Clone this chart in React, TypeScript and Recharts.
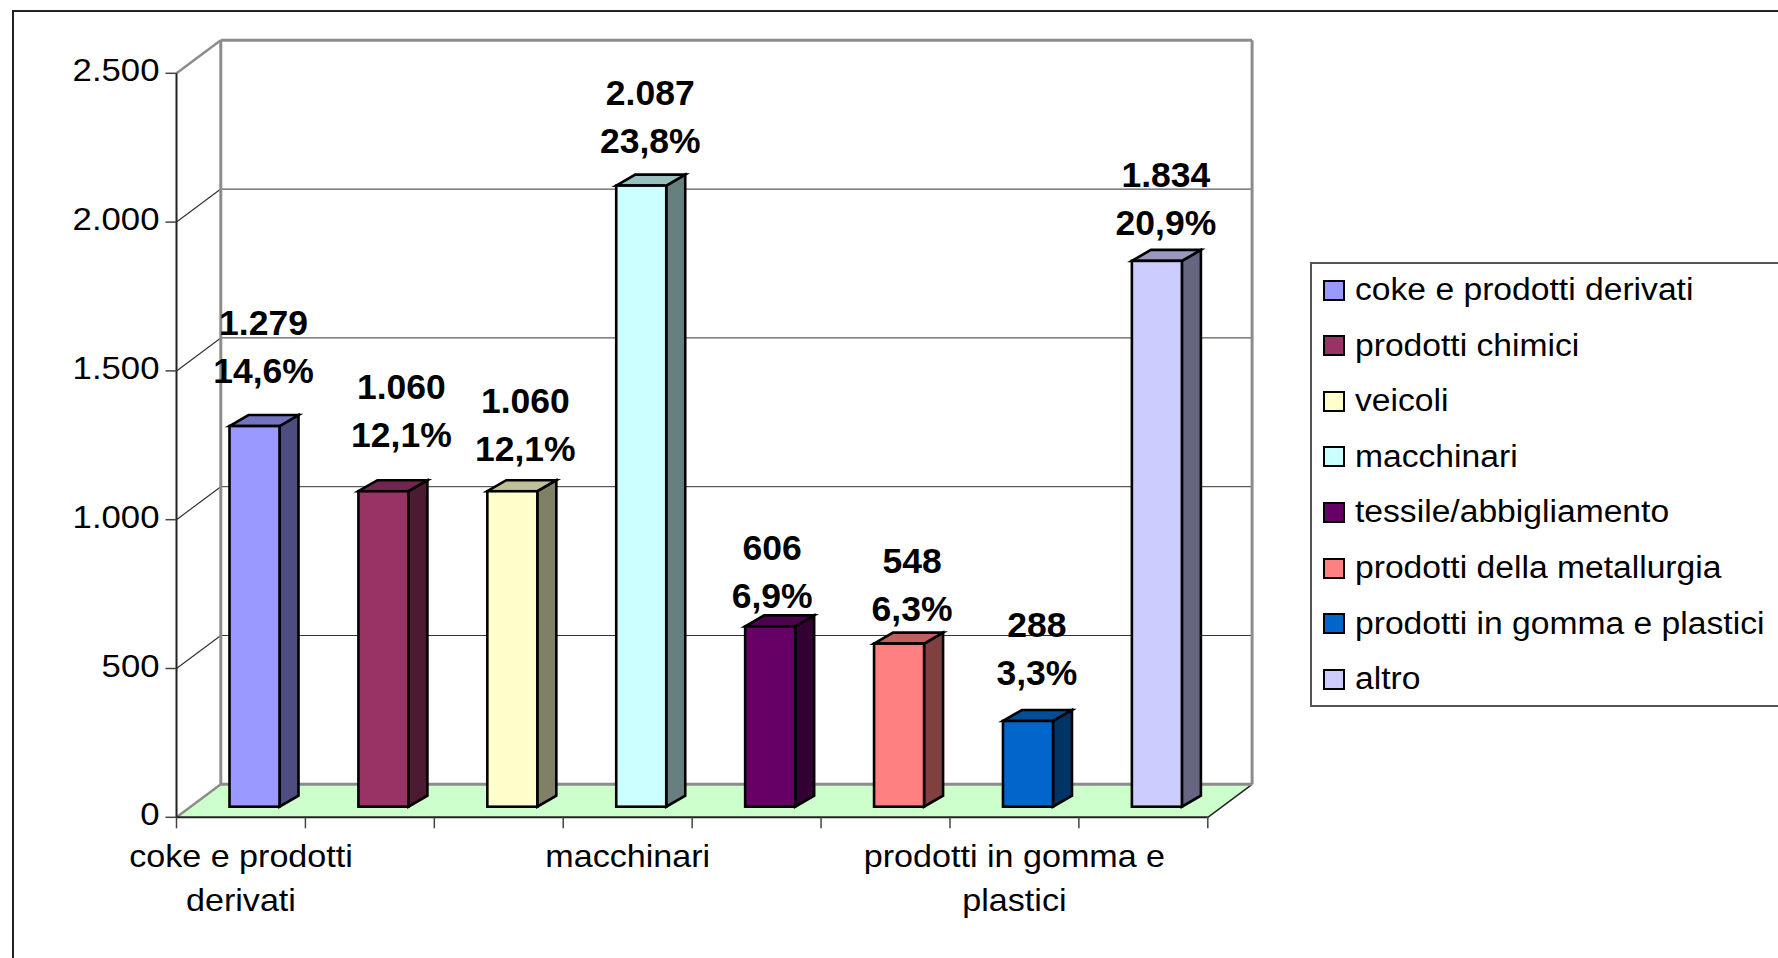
import { Bar, BarChart, CartesianGrid, LabelList, Legend, XAxis, YAxis } from 'recharts';

const categories = [
  'coke e prodotti derivati',
  'prodotti chimici',
  'veicoli',
  'macchinari',
  'tessile/abbigliamento',
  'prodotti della metallurgia',
  'prodotti in gomma e plastici',
  'altro',
];
const values = [1279, 1060, 1060, 2087, 606, 548, 288, 1834];
const shares = ['14,6%', '12,1%', '12,1%', '23,8%', '6,9%', '6,3%', '3,3%', '20,9%'];
const colors = ['#9999ff', '#993366', '#ffffcc', '#ccffff', '#660066', '#ff8080', '#0066cc', '#ccccff'];
const yTicks = [0, 500, 1000, 1500, 2000, 2500];
// the original only shows every third category name, wrapped like this
const xTickLines: Record<string, string[]> = {
  'coke e prodotti derivati': ['coke e prodotti', 'derivati'],
  macchinari: ['macchinari'],
  'prodotti in gomma e plastici': ['prodotti in gomma e', 'plastici'],
};

// the labels were dragged by hand in the original, so each one has its own nudge
const labelDx = [9, 18, 13, 9, 2, 13, 9, 9];
const labelDy = [-91, -92, -78, -81, -66, -71, -84, -74];

const FONT = '"Liberation Sans", Arial, sans-serif';
const WIDTH = 1778;
const HEIGHT = 958;
const LEFT = 176.5;
const RIGHT = 1207.8;
const TOP = 73.3;
const BOTTOM = 817.3;
const BAND = (RIGHT - LEFT) / categories.length;
// wall depth of the fake 3D box, and of the bars
const WALL_X = 44.3;
const WALL_Y = 33;
const BAR_X = 19;
const BAR_Y = 11;
const BAR_SHIFT_X = 14;
const BAR_SHIFT_Y = 10.6;

const rows = categories.map((name, i) => ({ name, value: values[i] }));

function shade(hex: string, k: number): string {
  const n = parseInt(hex.slice(1), 16);
  const c = [n >> 16, (n >> 8) & 255, n & 255].map(v => Math.round(v * k));
  return `rgb(${c[0]},${c[1]},${c[2]})`;
}

function dotted(v: number): string {
  return String(v).replace(/\B(?=(\d{3})+$)/g, '.');
}

function Box(props: any) {
  const { x, y, width, height, index } = props;
  const l = x + BAR_SHIFT_X;
  const r = l + width;
  const t = y - BAR_SHIFT_Y;
  const b = t + height;
  const c = colors[index];
  return (
    <g stroke="#000" strokeWidth={2.6} strokeLinejoin="miter">
      <polygon
        points={`${r},${t} ${r + BAR_X},${t - BAR_Y} ${r + BAR_X},${b - BAR_Y} ${r},${b}`}
        fill={shade(c, 0.5)}
      />
      <polygon
        points={`${l},${t} ${l + BAR_X},${t - BAR_Y} ${r + BAR_X},${t - BAR_Y} ${r},${t}`}
        fill={shade(c, 0.75)}
      />
      <rect x={l} y={t} width={width} height={height} fill={c} />
    </g>
  );
}

function GridLine(props: any) {
  const { x1, y1, x2 } = props;
  const floor = Math.abs(y1 - BOTTOM) < 1;
  const edge = floor || Math.abs(y1 - TOP) < 1;
  const backY = y1 - WALL_Y;
  return (
    <g>
      {floor && (
        <polygon
          points={`${x1},${y1} ${x1 + WALL_X},${backY} ${x2 + WALL_X},${backY} ${x2},${y1}`}
          fill="#ccffcc"
        />
      )}
      {floor && <line x1={x2} y1={y1} x2={x2 + WALL_X} y2={backY} stroke="#222" strokeWidth={1.5} />}
      <line
        x1={x1}
        y1={y1}
        x2={x1 + WALL_X}
        y2={backY}
        stroke={edge ? '#8c8c8c' : '#333'}
        strokeWidth={edge ? 2.5 : 1.2}
      />
      <line
        x1={x1 + WALL_X}
        y1={backY}
        x2={x2 + WALL_X}
        y2={backY}
        stroke={edge ? '#8c8c8c' : '#333'}
        strokeWidth={edge ? 3 : 1}
      />
    </g>
  );
}

function Walls() {
  return (
    <g stroke="#8c8c8c" strokeWidth={3}>
      <line x1={LEFT + WALL_X} y1={TOP - WALL_Y} x2={LEFT + WALL_X} y2={BOTTOM - WALL_Y} />
      <line x1={RIGHT + WALL_X} y1={TOP - WALL_Y} x2={RIGHT + WALL_X} y2={BOTTOM - WALL_Y} />
    </g>
  );
}

function YTick(props: any) {
  const { x, y, payload } = props;
  return (
    <text
      transform={`translate(${x},${y + 8}) scale(1.12,1)`}
      textAnchor="end"
      fontFamily={FONT}
      fontSize={31}
      fill="#000"
    >
      {dotted(payload.value)}
    </text>
  );
}

function XTick(props: any) {
  const { x, payload, index } = props;
  const last = index === categories.length - 1;
  const lines = xTickLines[payload.value] ?? [];
  return (
    <g>
      <line x1={x - BAND / 2} y1={BOTTOM} x2={x - BAND / 2} y2={BOTTOM + 11} stroke="#444" strokeWidth={1.5} />
      {last && <line x1={x + BAND / 2} y1={BOTTOM} x2={x + BAND / 2} y2={BOTTOM + 11} stroke="#444" strokeWidth={1.5} />}
      {lines.map((line, i) => (
        <text
          key={line}
          transform={`translate(${x},${BOTTOM + 49.5 + i * 44}) scale(1.1,1)`}
          textAnchor="middle"
          fontFamily={FONT}
          fontSize={31}
          fill="#000"
        >
          {line}
        </text>
      ))}
    </g>
  );
}

function BarLabel(props: any) {
  const { x, y, width, index } = props;
  const cx = x + BAR_SHIFT_X + width / 2 + labelDx[index];
  const base = y - BAR_SHIFT_Y + labelDy[index];
  return (
    <g fontFamily={FONT} fontSize={35.5} fontWeight="bold" fill="#000" textAnchor="middle">
      <text x={cx} y={base}>{dotted(values[index])}</text>
      <text x={cx} y={base + 48}>{shares[index]}</text>
    </g>
  );
}

function LegendBox() {
  return (
    <div
      style={{
        boxSizing: 'border-box',
        width: 500,
        height: 445,
        border: '2px solid #555',
        background: '#fff',
        fontFamily: FONT,
        fontSize: 31,
        color: '#000',
      }}
    >
      {categories.map((name, i) => (
        <div
          key={name}
          style={{ position: 'absolute', left: 13, top: 17 + i * 55.6, height: 22, display: 'flex', alignItems: 'center' }}
        >
          <span
            style={{
              boxSizing: 'border-box',
              width: 22,
              height: 21,
              border: '2.5px solid #000',
              background: colors[i],
              marginRight: 10,
            }}
          />
          <span style={{ whiteSpace: 'nowrap', transform: 'scaleX(1.085)', transformOrigin: 'left center' }}>{name}</span>
        </div>
      ))}
    </div>
  );
}

export default function App() {
  return (
    <div style={{ position: 'absolute', left: 0, top: 0, width: WIDTH, height: HEIGHT, overflow: 'hidden', background: '#fff' }}>
      <div style={{ position: 'absolute', left: 12, top: 10, width: 2000, height: 2000, border: '2px solid #222' }} />
      <BarChart
        width={WIDTH}
        height={HEIGHT}
        data={rows}
        margin={{ top: TOP, right: WIDTH - RIGHT, bottom: 0, left: 0 }}
        barSize={50}
        style={{ position: 'absolute', left: 0, top: 0 }}
      >
        <CartesianGrid vertical={false} horizontal={(p: any) => <GridLine key={p.key} {...p} />} />
        <Walls />
        <XAxis
          dataKey="name"
          height={HEIGHT - BOTTOM}
          interval={0}
          tick={<XTick />}
          axisLine={{ stroke: '#222', strokeWidth: 2 }}
          tickLine={false}
        />
        <YAxis
          width={LEFT}
          domain={[0, 2500]}
          ticks={yTicks}
          interval={0}
          tick={<YTick />}
          tickSize={11}
          tickMargin={6}
          axisLine={{ stroke: '#222', strokeWidth: 2 }}
          tickLine={{ stroke: '#444', strokeWidth: 1.5 }}
        />
        <Legend
          layout="vertical"
          align="center"
          verticalAlign="middle"
          content={<LegendBox />}
          wrapperStyle={{ left: 1310, top: 262, width: 500, height: 445 }}
        />
        <Bar dataKey="value" shape={<Box />} isAnimationActive={false}>
          <LabelList dataKey="value" content={<BarLabel />} />
        </Bar>
      </BarChart>
    </div>
  );
}
